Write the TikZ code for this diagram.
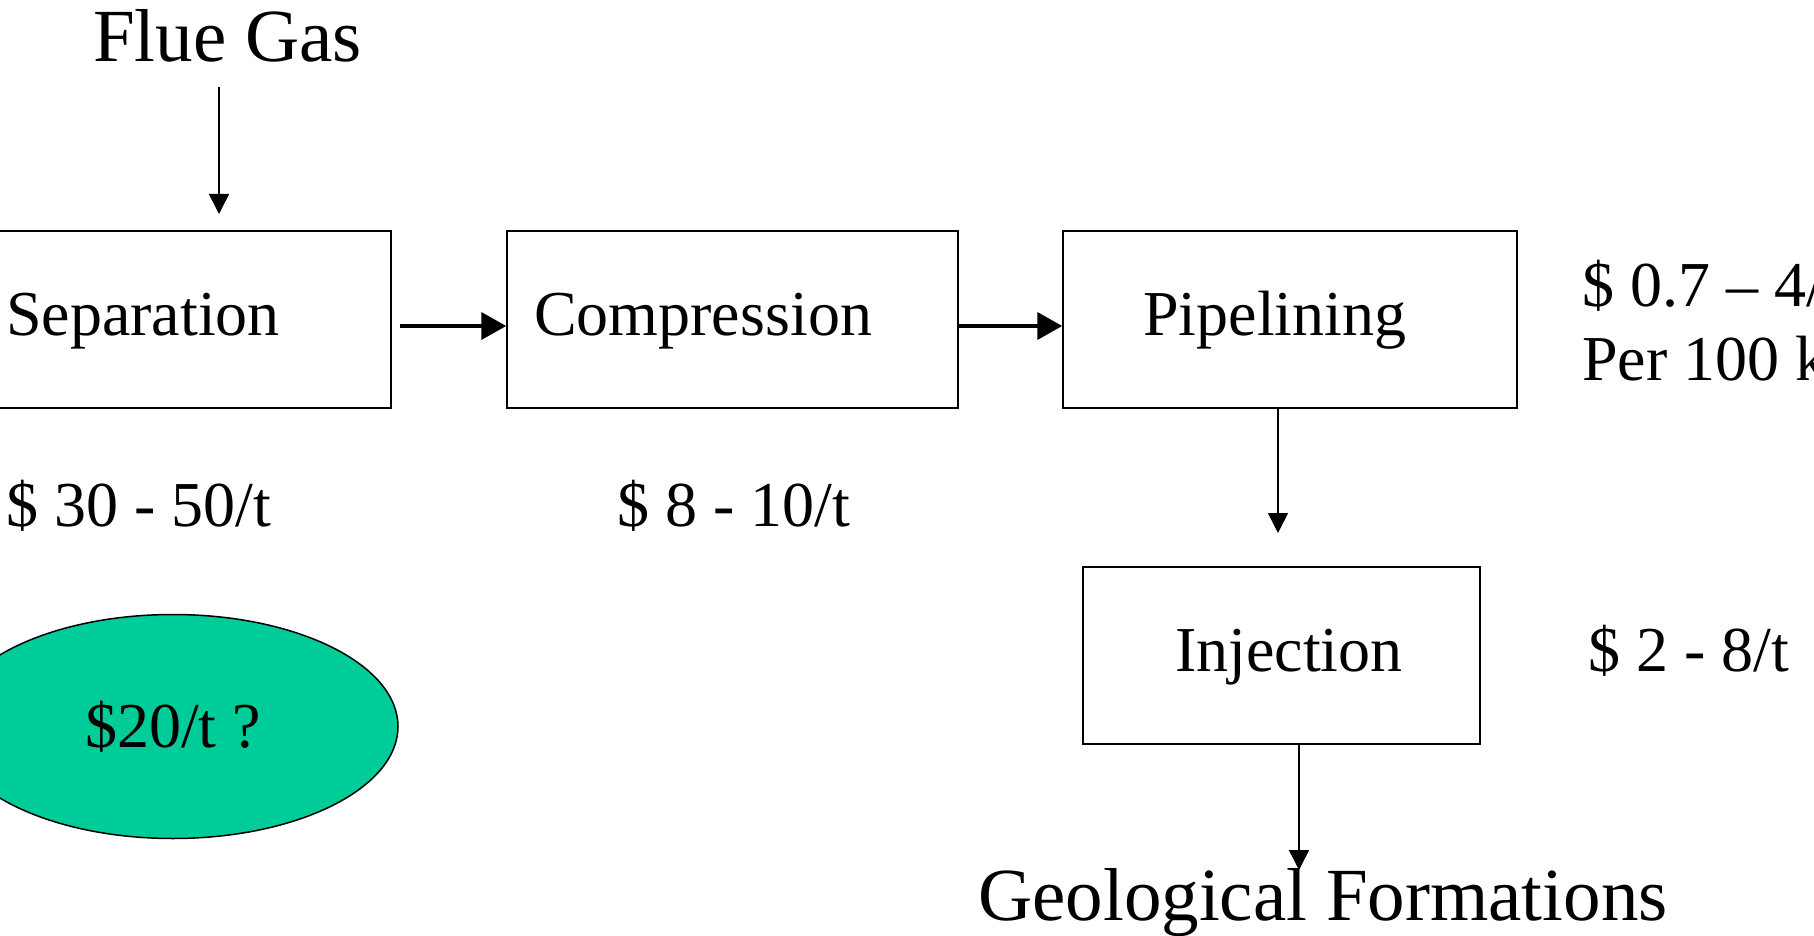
\documentclass[tikz,border=0pt]{standalone}
\usepackage{fontspec}
\setmainfont{Liberation Serif}
\usetikzlibrary{arrows.meta,shapes.geometric}
\definecolor{ellgreen}{RGB}{0,204,153}
\begin{document}
\begin{tikzpicture}[x=1pt,y=-1pt,
  box/.style={draw,line width=1.5pt,rectangle,inner sep=0pt},
  txt/.style={inner sep=0pt,anchor=base west,font=\fontsize{64}{75}\selectfont},
  bigtxt/.style={inner sep=0pt,anchor=base west,font=\fontsize{75}{90}\selectfont},
  thick arrow/.style={line width=4pt,-{Triangle[length=25pt,width=27pt]}},
  thin arrow/.style={line width=1.5pt,-{Triangle[length=20pt,width=20pt]}}]
\useasboundingbox (0,0) rectangle (1814,936);
\clip (0,0) rectangle (1814,936);
\fill[white] (0,0) rectangle (1814,936);
% boxes
\node[box,minimum width=498pt,minimum height=177pt] (sep) at (142,319.5) {};
\node[box,minimum width=451pt,minimum height=177pt] (comp) at (732.5,319.5) {};
\node[box,minimum width=454pt,minimum height=177pt] (pipe) at (1290,319.5) {};
\node[box,minimum width=397pt,minimum height=177pt] (inj) at (1281.5,655.5) {};
% ellipse
\node[ellipse,draw,line width=1.5pt,fill=ellgreen,minimum width=450pt,minimum height=224pt,inner sep=0pt,font=\fontsize{64}{75}\selectfont] (ell) at (173,726.5) {\$20/t ?};
% texts
\node[bigtxt] (flue) at (93,62) {Flue Gas};
\node[txt] (septxt) at (6,335) {Separation};
\node[txt] (comptxt) at (534,335) {Compression};
\node[txt] (pipetxt) at (1143,335) {Pipelining};
\node[txt] (injtxt) at (1175,671) {Injection};
\node[txt] (c1) at (6,526) {\$ 30 - 50/t};
\node[txt] (c2) at (617,526) {\$ 8 - 10/t};
\node[txt] (c3a) at (1582,306) {\$ 0.7 – 4/t};
\node[txt] (c3b) at (1582,380) {Per 100 km};
\node[txt] (c4) at (1588,671) {\$ 2 - 8/t};
\node[bigtxt] (geo) at (978,920) {Geological Formations};
% connectors
\coordinate (fgA) at (219,87);
\coordinate (fgB) at (219,214);
\draw[thin arrow] (fgA) -- (fgB);
\draw[thick arrow] ([xshift=8pt,yshift=-6.5pt]sep.east) -- ([yshift=-6.5pt]comp.west);
\draw[thick arrow] ([yshift=-6.5pt]comp.east) -- ([yshift=-6.5pt]pipe.west);
\coordinate (pinjA) at (1278,408);
\coordinate (pinjB) at (1278,533);
\draw[thin arrow] (pinjA) -- (pinjB);
\coordinate (igA) at (1299,744);
\coordinate (igB) at (1299,870);
\draw[thin arrow] (igA) -- (igB);
\end{tikzpicture}
\end{document}
